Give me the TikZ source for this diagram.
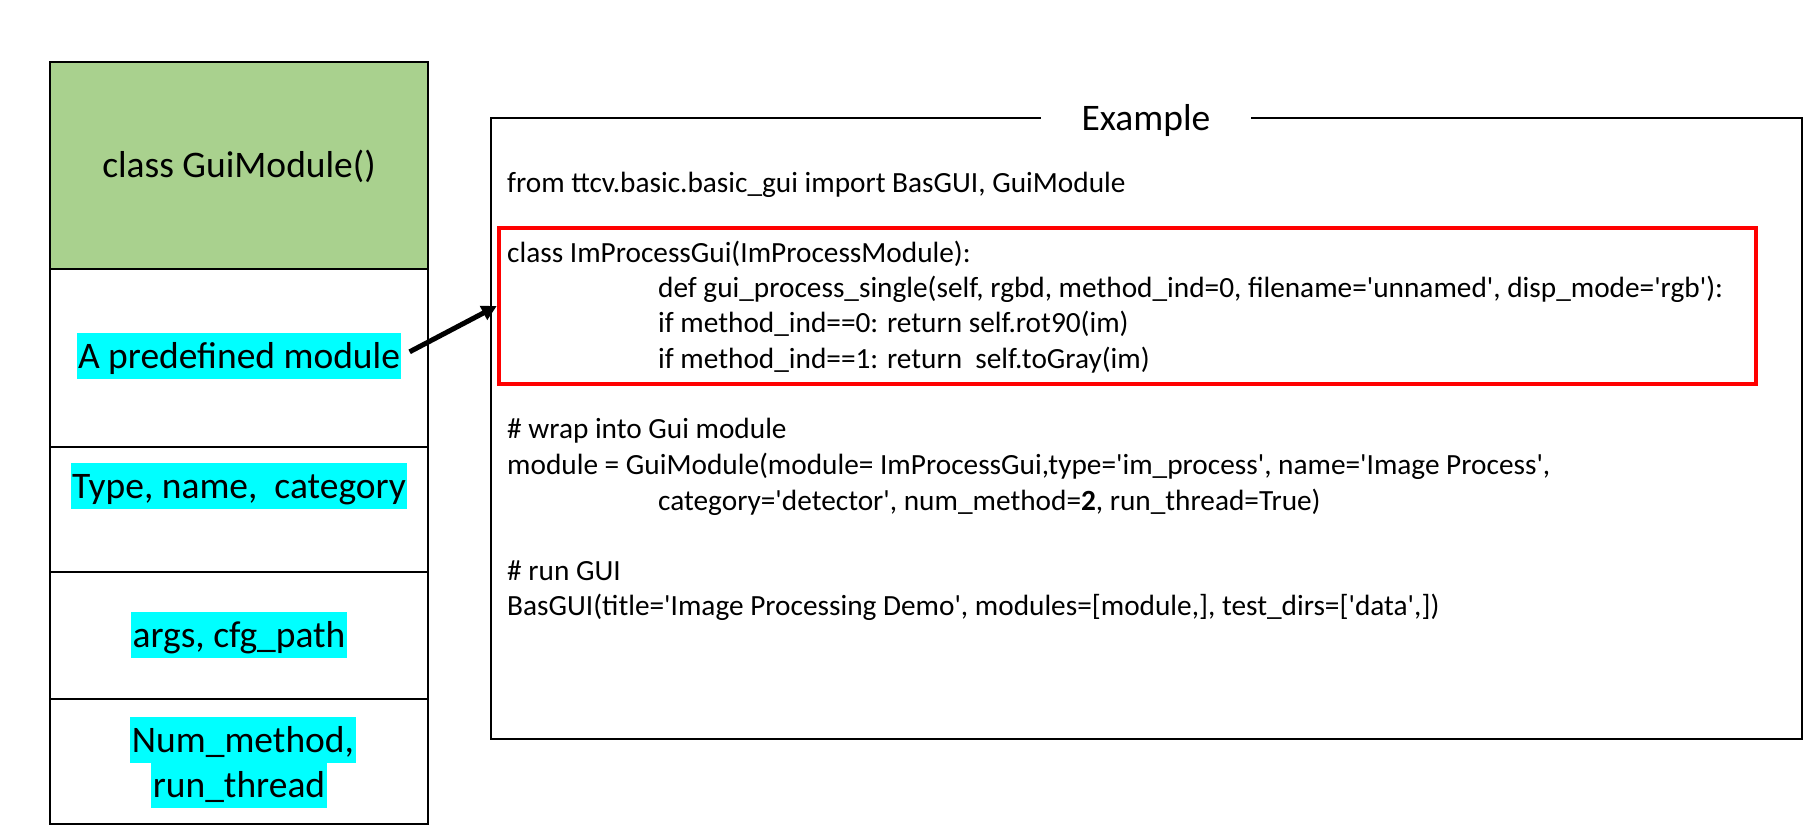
\documentclass[tikz,border=0pt]{standalone}
\usepackage{fontspec}
\setmainfont{Carlito}
\usepackage{tikz}
\usetikzlibrary{arrows.meta}
\definecolor{guigreen}{HTML}{A9D18E}
\definecolor{hlcyan}{HTML}{00FFFF}
\definecolor{focusred}{HTML}{FF0000}
\newcommand{\sq}{\textquotesingle}
\tikzset{
  big/.style={font=\fontsize{37.5}{45}\selectfont},
  hilite/.style={big,fill=hlcyan,inner xsep=1.5pt,inner ysep=0pt,
    text height=35pt,text depth=11pt,anchor=base},
  code/.style={font=\fontsize{29.3}{35.3}\selectfont,inner sep=0pt,anchor=base west},
  cell/.style={line width=2pt},
}

\begin{document}
\begin{tikzpicture}[x=1pt,y=-1pt,>=Triangle]
  \useasboundingbox (0,0) rectangle (1812,840);
  % class column
  \draw[cell,fill=guigreen] (50,62) rectangle (428,269);
  \draw[cell] (50,269) rectangle (428,447);
  \draw[cell] (50,447) rectangle (428,572);
  \draw[cell] (50,572) rectangle (428,699);
  \draw[cell] (50,699) rectangle (428,824);
  \node[big,anchor=base] (cls) at (239,177) {class GuiModule()};
  \node[hilite] (pre) at (239,368) {A predefined module};
  \node[hilite] (tnc) at (239,498) {Type, name,\ \ category};
  \node[hilite] (cfg) at (239,647) {args, cfg\_path};
  \node[hilite] (num) at (243,752) {Num\_method,\ };
  \node[hilite] (thr) at (239,797) {run\_thread};
  % example frame
  \draw[line width=2.4pt] (491,118) rectangle (1802,739);
  \node[big,fill=white,anchor=base,inner xsep=41pt,inner ysep=2pt] (title) at (1146,131) {Example};
  \node[draw=focusred,line width=4.5pt,inner sep=0pt,minimum width=1257pt,
    minimum height=156pt] (focus) at (1127.5,306) {};
  \node[code] (imp) at (507,192) {from ttcv.basic.basic\_gui import BasGUI, GuiModule};
  \node[code] (cdef) at (507,262) {class ImProcessGui(ImProcessModule):};
  \node[code] (fdef) at (658,297) {def gui\_process\_single(self, rgbd, method\_ind=0, filename=\sq unnamed\sq, disp\_mode=\sq rgb\sq):};
  \node[code] (if0) at (658,332) {if method\_ind==0: return self.rot90(im)};
  \node[code] (if1) at (658,368) {if method\_ind==1: return\ \ self.toGray(im)};
  \node[code] (cwrap) at (507,438) {\# wrap into Gui module};
  \node[code] (mod) at (507,474) {module = GuiModule(module= ImProcessGui,type=\sq im\_process\sq, name=\sq Image Process\sq,};
  \node[code] (cat) at (658,510) {category=\sq detector\sq, num\_method=\textbf{2}, run\_thread=True)};
  \node[code] (crun) at (507,580) {\# run GUI};
  \node[code] (bas) at (507,615) {BasGUI(title=\sq Image Processing Demo\sq, modules=[module,], test\_dirs=[\sq data\sq,])};
  % link
  \draw[->,line width=5pt,shorten <=9pt,arrows={-Triangle[length=15pt,width=15pt]}] (pre.east) -- (focus.west);
\end{tikzpicture}
\end{document}
